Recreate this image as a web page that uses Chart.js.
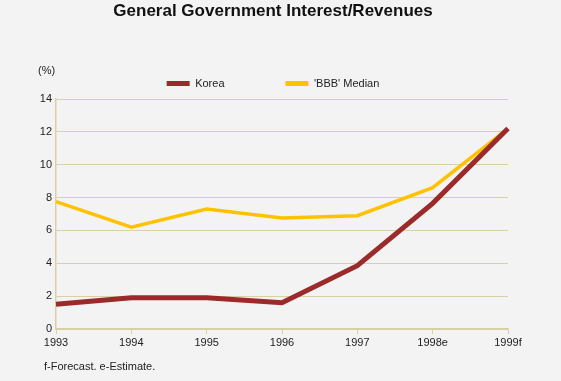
<!DOCTYPE html>
<html>
<head>
<meta charset="utf-8">
<script src="https://cdn.jsdelivr.net/npm/chart.js@4"></script>
<style>
html,body{margin:0;padding:0;background:#f4f3f4;}
#wrap{position:relative;width:561px;height:381px;}
canvas{display:block;}
</style>
</head>
<body>
<div id="wrap"><canvas id="c" width="561" height="381"></canvas></div>
<script>
const categories = ['1993','1994','1995','1996','1997','1998e','1999f'];
const koreaValues = [1.5, 1.9, 1.9, 1.6, 3.85, 7.65, 12.2];
const bbbValues = [7.75, 6.2, 7.3, 6.75, 6.9, 8.6, 12.2];
const seriesNames = ['Korea', "'BBB' Median"];
const yTicks = [0, 2, 4, 6, 8, 10, 12, 14];
const titleText = 'General Government Interest/Revenues';
const unitText = '(%)';
const footnoteText = 'f-Forecast. e-Estimate.';

const FONT = "'Liberation Sans', Arial, sans-serif";
const gridColor = '#d8d1a6';

const extraText = {
  id: 'extraText',
  afterDraw(chart) {
    const ctx = chart.ctx;
    ctx.save();
    ctx.fillStyle = '#222';
    ctx.font = '11px ' + FONT;
    ctx.textBaseline = 'middle';
    ctx.textAlign = 'left';
    ctx.fillText(unitText, 38, 71);
    ctx.fillText(footnoteText, 44, 367);
    ctx.restore();
  }
};

new Chart(document.getElementById('c'), {
  type: 'line',
  data: {
    labels: categories,
    datasets: [
      { label: seriesNames[0], data: koreaValues, borderColor: '#9b2b2b', backgroundColor: '#9b2b2b',
        borderWidth: 5, pointRadius: 0, tension: 0, order: 1 },
      { label: seriesNames[1], data: bbbValues, borderColor: '#ffc200', backgroundColor: '#ffc200',
        borderWidth: 3.5, pointRadius: 0, tension: 0, order: 2 }
    ]
  },
  options: {
    responsive: false,
    animation: false,
    devicePixelRatio: 1,
    layout: { padding: { left: 38, right: 53, top: 4.5, bottom: 0 } },
    plugins: {
      title: {
        display: true, text: titleText, color: '#111',
        font: { family: FONT, size: 17, weight: 'bold' },
        padding: { top: -3, bottom: -4.9 }
      },
      legend: {
        display: true,
        labels: {
          color: '#222', font: { family: FONT, size: 11 },
          boxWidth: 23, boxHeight: 5, padding: 61,
          generateLabels(chart) {
            const items = Chart.defaults.plugins.legend.labels.generateLabels(chart);
            items.forEach(it => { it.lineWidth = 0; it.strokeStyle = 'rgba(0,0,0,0)'; });
            return items;
          }
        }
      },
      tooltip: { enabled: false }
    },
    scales: {
      x: {
        offset: false,
        grid: { display: true, drawOnChartArea: false, drawTicks: true, tickLength: 5, color: gridColor, lineWidth: 1 },
        border: { display: true, color: gridColor, width: 1.5 },
        ticks: { color: '#222', font: { family: FONT, size: 11 }, padding: 2, maxRotation: 0, autoSkip: false },
        afterFit(s) { s.height = 52; }
      },
      y: {
        min: 0, max: 14,
        afterBuildTicks(s) { s.ticks = yTicks.map(v => ({ value: v })); },
        grid: { color: gridColor, lineWidth: 1, drawTicks: false },
        border: { display: true, color: gridColor, width: 1.5 },
        ticks: { color: '#222', font: { family: FONT, size: 11 }, padding: 4 },
        afterFit(s) { s.width = 18; }
      }
    }
  },
  plugins: [extraText]
});
</script>
</body>
</html>
